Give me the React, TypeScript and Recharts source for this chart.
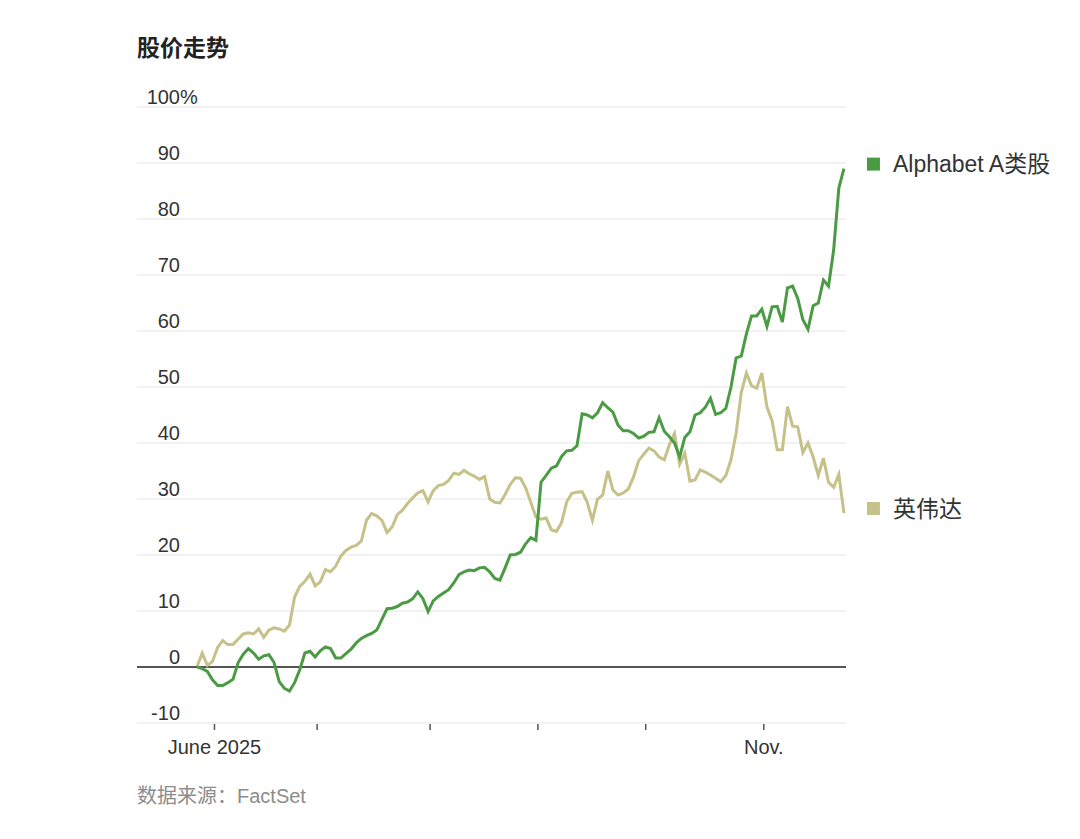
import React from "react";
import {
  LineChart,
  Line,
  XAxis,
  YAxis,
  CartesianGrid,
  ReferenceLine,
  LabelList,
} from "recharts";

const GREEN = "#4b9b45";
const KHAKI = "#c6c189";
const GRID  = "#e6e6e6";
const INK   = "#333333";
const FONT  = '"Liberation Sans", Arial, "Noto Sans CJK SC", sans-serif';

// trading days, 28 May - 25 Nov 2025
const MAY  = [28, 29, 30];
const JUNE = [2, 3, 4, 5, 6, 9, 10, 11, 12, 13, 16, 17, 18, 20, 23, 24, 25, 26, 27, 30];
const JULY = [1, 2, 3, 7, 8, 9, 10, 11, 14, 15, 16, 17, 18, 21, 22, 23, 24, 25, 28, 29, 30, 31];
const AUG  = [1, 4, 5, 6, 7, 8, 11, 12, 13, 14, 15, 18, 19, 20, 21, 22, 25, 26, 27, 28, 29];
const SEP  = [2, 3, 4, 5, 8, 9, 10, 11, 12, 15, 16, 17, 18, 19, 22, 23, 24, 25, 26, 29, 30];
const OCT  = [1, 2, 3, 6, 7, 8, 9, 10, 13, 14, 15, 16, 17, 20, 21, 22, 23, 24, 27, 28, 29, 30, 31];
const NOV  = [3, 4, 5, 6, 7, 10, 11, 12, 13, 14, 17, 18, 19, 20, 21, 24, 25];

const MONTH_DAYS = [
  { m: 5,  days: MAY },
  { m: 6,  days: JUNE },
  { m: 7,  days: JULY },
  { m: 8,  days: AUG },
  { m: 9,  days: SEP },
  { m: 10, days: OCT },
  { m: 11, days: NOV },
];

const MONTH_LABELS: Record<number, string> = { 6: "June 2025", 11: "Nov." };

// % change since start
const ALPHABET = [
  0, -0.3, -0.8, -2.3, -3.3, -3.3, -2.8, -2.2, 0.8, 2.3,
  3.3, 2.5, 1.4, 2.0, 2.2, 0.8, -2.6, -3.8, -4.3, -2.8,
  -0.5, 2.5, 2.8, 1.8, 2.9, 3.6, 3.3, 1.6, 1.6, 2.4,
  3.2, 4.3, 5.1, 5.6, 6.0, 6.6, 8.5, 10.4, 10.5, 10.8,
  11.4, 11.6, 12.2, 13.4, 12.2, 9.9, 11.8, 12.6, 13.2, 13.8,
  15.0, 16.5, 17.0, 17.3, 17.2, 17.7, 17.8, 17.0, 15.8, 15.5,
  17.7, 20.0, 20.1, 20.5, 22.0, 23.1, 22.6, 33.0, 34.2, 35.5,
  35.9, 37.6, 38.6, 38.7, 39.5, 45.2, 45.0, 44.5, 45.4, 47.2,
  46.3, 45.5, 43.2, 42.2, 42.2, 41.7, 40.9, 41.2, 41.9, 42.0,
  44.5, 42.1, 41.1, 40.0, 37.5, 41.0, 42.0, 45.0, 45.4, 46.4,
  48.0, 45.1, 45.4, 46.2, 50.0, 55.2, 55.5, 59.5, 62.7, 62.7,
  63.9, 60.8, 64.3, 64.4, 61.6, 67.7, 68.0, 65.8, 62.0, 60.3,
  64.5, 65.0, 69.1, 68.0, 74.5, 85.5, 89.0,
];

const NVIDIA = [
  0.1, 2.5, 0.3, 1.0, 3.5, 4.7, 4.0, 4.0, 5.0, 5.9,
  6.1, 5.9, 6.8, 5.3, 6.6, 7.0, 6.8, 6.4, 7.5, 12.5,
  14.4, 15.3, 16.6, 14.5, 15.2, 17.4, 17.0, 18.0, 19.8, 20.8,
  21.4, 21.7, 22.5, 26.2, 27.4, 27.0, 26.2, 24.0, 25.0, 27.2,
  28.0, 29.2, 30.2, 31.1, 31.5, 29.5, 31.5, 32.4, 32.6, 33.3,
  34.6, 34.4, 35.1, 34.5, 34.1, 33.5, 34.0, 30.0, 29.4, 29.3,
  30.8, 32.6, 33.8, 33.7, 32.0, 29.4, 26.8, 26.4, 26.6, 24.5,
  24.2, 25.8, 29.5, 31.0, 31.2, 31.3, 29.4, 26.2, 30.0, 30.7,
  35.0, 31.6, 30.7, 31.1, 31.8, 33.9, 36.8, 38.0, 39.1, 38.6,
  37.5, 37.0, 39.7, 41.7, 36.2, 38.2, 33.2, 33.4, 35.2, 34.8,
  34.3, 33.7, 33.1, 34.2, 37.0, 41.8, 49.0, 52.5, 50.2, 49.8,
  52.5, 46.4, 44.0, 38.8, 38.8, 46.5, 43.0, 42.9, 38.3, 40.0,
  37.5, 34.2, 37.3, 33.0, 32.1, 34.4, 27.5,
];

const Y_TICKS = [-10, 0, 10, 20, 30, 40, 50, 60, 70, 80, 90, 100];

const DATES: string[] = [];
const MONTH_START: Record<number, number> = {};
MONTH_DAYS.forEach(({ m, days }) => {
  days.forEach((d, k) => {
    if (k === 0) MONTH_START[DATES.length] = m;
    DATES.push(`2025-${String(m).padStart(2, "0")}-${String(d).padStart(2, "0")}`);
  });
});
const X_TICKS = Object.keys(MONTH_START).map(Number).filter((i) => MONTH_START[i] !== 5);
const LAST = DATES.length - 1;

const data = DATES.map((date, i) => ({
  i,
  date,
  alphabet: ALPHABET[i],
  nvidia: NVIDIA[i],
}));

function YTick({ x, y, payload }: any) {
  const v = payload.value;
  return (
    <g>
      <text x={x + 43} y={y - 3} textAnchor="end" fontSize={20} fill={INK} fontFamily={FONT}>
        {v}
      </text>
      {v === 100 && (
        <text x={x + 43} y={y - 3} textAnchor="start" fontSize={20} fill={INK} fontFamily={FONT}>
          %
        </text>
      )}
    </g>
  );
}

function XTick({ x, y, payload }: any) {
  const label = MONTH_LABELS[MONTH_START[payload.value]];
  return (
    <g>
      <line x1={x + 2} x2={x + 2} y1={y + 1} y2={y + 7} stroke="#555" strokeWidth={1.5} />
      {label && (
        <text x={x + 2} y={y + 31} textAnchor="middle" fontSize={20} fill={INK} fontFamily={FONT}>
          {label}
        </text>
      )}
    </g>
  );
}

const endLabel = (name: string, color: string) => (props: any) => {
  const { x, y, index } = props;
  if (index !== LAST) return null;
  const cy = y - 4.5;
  return (
    <g>
      <rect x={x + 23} y={cy - 6.5} width={13} height={13} fill={color} />
      <text x={x + 49} y={cy} dominantBaseline="central" fontSize={23} fill={INK} fontFamily={FONT}>
        {name}
      </text>
    </g>
  );
};

export default function App() {
  return (
    <div
      style={{
        position: "absolute",
        left: 0,
        top: 0,
        width: 1080,
        height: 839,
        background: "#fff",
        fontFamily: FONT,
      }}
    >
      <div
        style={{
          position: "absolute",
          left: 137,
          top: 37,
          fontSize: 23,
          lineHeight: "23px",
          fontWeight: 700,
          color: "#222",
        }}
      >
        股价走势
      </div>

      <LineChart
        width={1080}
        height={839}
        data={data}
        margin={{ top: 107, right: 234, left: 92, bottom: 86 }}
      >
        <CartesianGrid vertical={false} stroke={GRID} strokeWidth={1.2} />
        <XAxis
          dataKey="i"
          type="number"
          domain={[-11.7, 126.4]}
          ticks={X_TICKS}
          interval={0}
          height={30}
          axisLine={false}
          tickLine={false}
          tickSize={0}
          tickMargin={0}
          tick={<XTick />}
        />
        <YAxis
          type="number"
          domain={[-10, 100]}
          ticks={Y_TICKS}
          interval={0}
          width={45}
          axisLine={false}
          tickLine={false}
          tickSize={0}
          tickMargin={0}
          tick={<YTick />}
        />
        <ReferenceLine y={0} stroke="#555" strokeWidth={2} />
        <Line
          type="linear"
          dataKey="nvidia"
          stroke={KHAKI}
          strokeWidth={3}
          dot={false}
          activeDot={false}
          isAnimationActive={false}
        >
          <LabelList dataKey="nvidia" content={endLabel("英伟达", KHAKI)} />
        </Line>
        <Line
          type="linear"
          dataKey="alphabet"
          stroke={GREEN}
          strokeWidth={3}
          dot={false}
          activeDot={false}
          isAnimationActive={false}
        >
          <LabelList dataKey="alphabet" content={endLabel("Alphabet A类股", GREEN)} />
        </Line>
      </LineChart>

      <div
        style={{
          position: "absolute",
          left: 137,
          top: 786,
          fontSize: 20,
          lineHeight: "20px",
          color: "#8c8c8c",
        }}
      >
        数据来源：FactSet
      </div>
    </div>
  );
}
